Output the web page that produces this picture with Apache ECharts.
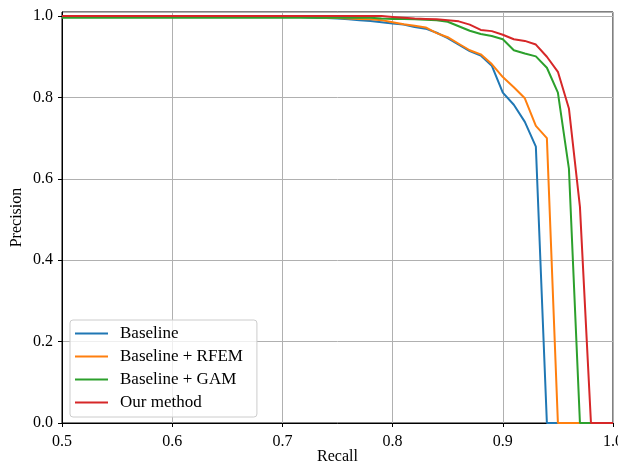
<!doctype html>
<html>
<head>
<meta charset="utf-8">
<title>Precision-Recall</title>
<script src="https://cdn.jsdelivr.net/npm/echarts@6/dist/echarts.min.js"></script>
<style type="text/css">
	html, body {
		margin: 0;
		padding: 0;
		background: #fff;
	}
	#pr-chart {
		width: 618px;
		height: 463px;
	}
</style>
</head>
<body>
<div id="pr-chart"></div>
<script type="text/javascript">
	var recall = [0.50, 0.51, 0.52, 0.53, 0.54, 0.55, 0.56, 0.57, 0.58, 0.59,
		0.60, 0.61, 0.62, 0.63, 0.64, 0.65, 0.66, 0.67, 0.68, 0.69,
		0.70, 0.71, 0.72, 0.73, 0.74, 0.75, 0.76, 0.77, 0.78, 0.79,
		0.80, 0.81, 0.82, 0.83, 0.84, 0.85, 0.86, 0.87, 0.88, 0.89,
		0.90, 0.91, 0.92, 0.93, 0.94, 0.95, 0.96, 0.97, 0.98, 0.99, 1.00];

	var baseline = [1.000, 1.000, 1.000, 1.000, 1.000, 1.000, 1.000, 1.000, 1.000, 1.000,
		1.000, 1.000, 1.000, 1.000, 1.000, 1.000, 1.000, 1.000, 1.000, 1.000,
		1.000, 0.999, 0.997, 0.996, 0.995, 0.994, 0.992, 0.990, 0.988, 0.985,
		0.982, 0.979, 0.973, 0.969, 0.959, 0.946, 0.930, 0.914, 0.903, 0.878,
		0.812, 0.782, 0.740, 0.679, 0, 0, 0, 0, 0, 0, 0];

	var baselineRfem = [1.000, 1.000, 1.000, 1.000, 1.000, 1.000, 1.000, 1.000, 1.000, 1.000,
		1.000, 1.000, 1.000, 1.000, 1.000, 1.000, 1.000, 1.000, 1.000, 1.000,
		1.000, 0.999, 0.998, 0.997, 0.996, 0.995, 0.994, 0.993, 0.992, 0.990,
		0.985, 0.980, 0.976, 0.972, 0.958, 0.948, 0.932, 0.916, 0.906, 0.882,
		0.850, 0.825, 0.798, 0.730, 0.700, 0, 0, 0, 0, 0, 0];

	var baselineGam = [0.996, 0.996, 0.996, 0.996, 0.996, 0.996, 0.996, 0.996, 0.996, 0.996,
		0.996, 0.996, 0.996, 0.996, 0.996, 0.996, 0.996, 0.996, 0.996, 0.996,
		0.996, 0.996, 0.996, 0.996, 0.996, 0.996, 0.996, 0.996, 0.996, 0.994,
		0.993, 0.993, 0.992, 0.991, 0.990, 0.986, 0.975, 0.964, 0.956, 0.951,
		0.943, 0.916, 0.908, 0.901, 0.873, 0.812, 0.625, 0, 0, 0, 0];

	var ourMethod = [1.000, 1.000, 1.000, 1.000, 1.000, 1.000, 1.000, 1.000, 1.000, 1.000,
		1.000, 1.000, 1.000, 1.000, 1.000, 1.000, 1.000, 1.000, 1.000, 1.000,
		1.000, 1.000, 1.000, 1.000, 1.000, 1.000, 1.000, 1.000, 1.000, 1.000,
		0.998, 0.996, 0.994, 0.993, 0.992, 0.990, 0.987, 0.979, 0.966, 0.963,
		0.954, 0.943, 0.939, 0.930, 0.900, 0.863, 0.773, 0.531, 0, 0, 0];

	var seriesNames = ['Baseline', 'Baseline + RFEM', 'Baseline + GAM', 'Our method'];
	var seriesColors = ['#1f77b4', '#ff7f0e', '#2ca02c', '#d62728'];
	var seriesValues = [baseline, baselineRfem, baselineGam, ourMethod];

	function pairs(values) {
		var out = [];
		for (var i = 0; i < recall.length; i++) {
			out.push([recall[i], values[i]]);
		}
		return out;
	}

	var font = 'Liberation Serif';
	var series = [];
	for (var i = 0; i < seriesNames.length; i++) {
		series.push({
			name: seriesNames[i],
			type: 'line',
			data: pairs(seriesValues[i]),
			showSymbol: false,
			symbol: 'none',
			lineStyle: { width: 2, color: seriesColors[i] },
			itemStyle: { color: seriesColors[i] }
		});
	}

	var myChart = echarts.init(document.getElementById('pr-chart'));
	var option = {
		animation: false,
		grid: {
			left: 62,
			right: 5,
			top: 12,
			bottom: 40,
			containLabel: false,
			outerBoundsMode: 'none',
			show: true,
			borderColor: '#000',
			borderWidth: 1,
			backgroundColor: 'transparent'
		},
		legend: {
			orient: 'vertical',
			left: 70,
			top: 320,
			padding: [5, 14, 6, 5],
			itemGap: 6,
			itemWidth: 33,
			itemHeight: 2,
			icon: 'rect',
			backgroundColor: 'rgba(255,255,255,0.8)',
			borderColor: '#cccccc',
			borderWidth: 1,
			borderRadius: 3,
			textStyle: { fontFamily: font, fontSize: 17, lineHeight: 17, color: '#000', padding: [0, 0, 0, 7] },
			data: seriesNames
		},
		xAxis: {
			type: 'value',
			min: 0.5,
			max: 1.0,
			interval: 0.1,
			name: 'Recall',
			nameLocation: 'middle',
			nameGap: 26,
			nameMoveOverlap: false,
			nameTextStyle: { fontFamily: font, fontSize: 16, color: '#000' },
			axisLine: { show: true, onZero: false, lineStyle: { color: '#000', width: 1 } },
			axisTick: { show: true, inside: false, length: 4, lineStyle: { color: '#000' } },
			axisLabel: {
				fontFamily: font,
				fontSize: 16,
				color: '#000',
				margin: 11,
				formatter: function (v) { return v.toFixed(1); }
			},
			splitLine: { show: true, lineStyle: { color: '#b0b0b0', width: 1 } }
		},
		yAxis: {
			type: 'value',
			min: 0,
			max: 1.01,
			interval: 0.2,
			name: 'Precision',
			nameLocation: 'middle',
			nameGap: 37,
			nameMoveOverlap: false,
			nameTextStyle: { fontFamily: font, fontSize: 16, color: '#000' },
			axisLine: { show: true, lineStyle: { color: '#000', width: 1 } },
			axisTick: { show: true, inside: false, length: 4, lineStyle: { color: '#000' } },
			axisLabel: {
				fontFamily: font,
				fontSize: 16,
				color: '#000',
				margin: 9,
				showMaxLabel: false,
				formatter: function (v) { return v.toFixed(1); }
			},
			splitLine: { show: true, lineStyle: { color: '#b0b0b0', width: 1 } }
		},
		series: series
	};
	myChart.setOption(option);
</script>
</body>
</html>
